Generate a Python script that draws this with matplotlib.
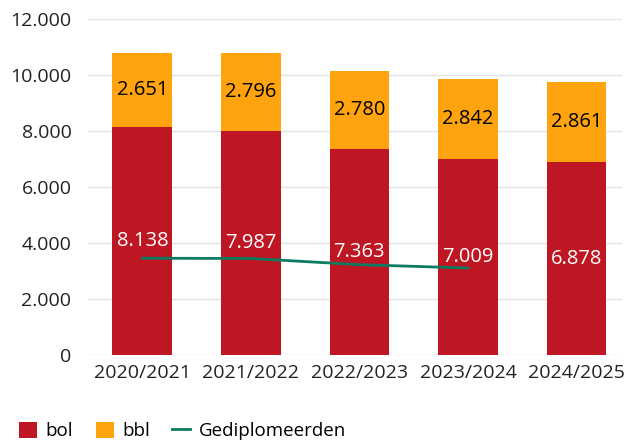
import matplotlib.pyplot as plt
import numpy as np

plt.rcParams['font.family'] = ['Open Sans', 'DejaVu Sans']

years = ['2020/2021', '2021/2022', '2022/2023', '2023/2024', '2024/2025']
bol = [8138, 7987, 7363, 7009, 6878]
bbl = [2651, 2796, 2780, 2842, 2861]
gediplomeerden = [3460, 3450, 3230, 3110]

red = '#BE1622'
orange = '#FFA30F'
teal = '#0A7A60'

fig = plt.figure(figsize=(6.29, 4.43), dpi=100)
ax = fig.add_axes([0.14, 0.198, 0.849, 0.76])

x = np.arange(len(years))
w = 0.55
b1 = ax.bar(x, bol, w, color=red, label='bol', zorder=2)
b2 = ax.bar(x, bbl, w, bottom=bol, color=orange, label='bbl', zorder=2)
ln, = ax.plot(x[:len(gediplomeerden)], gediplomeerden, color=teal, lw=2,
              label='Gediplomeerden', zorder=3)

def fmt(v):
    return f'{v:,}'.replace(',', '.')

for i in range(len(years)):
    ax.text(x[i], bol[i] / 2, fmt(bol[i]), ha='center', va='center',
            color='white', fontsize=14.5, zorder=4)
    ax.text(x[i], bol[i] + bbl[i] / 2, fmt(bbl[i]), ha='center', va='center',
            color='black', fontsize=14.5, zorder=4)

ax.set_ylim(0, 12000)
ax.set_xlim(-0.5, 4.42)
ax.set_yticks(range(0, 12001, 2000))
ax.set_yticklabels([fmt(v) for v in range(0, 12001, 2000)])
ax.set_xticks(x)
ax.set_xticklabels(years)
ax.tick_params(axis='both', length=0, labelsize=14, colors='#222222')
ax.tick_params(axis='y', pad=12)
ax.tick_params(axis='x', pad=6)
ax.grid(axis='y', color='#E3E3E3', lw=1, zorder=0)
for s in ax.spines.values():
    s.set_visible(False)

ax.legend([b1, b2, ln], ['bol', 'bbl', 'Gediplomeerden'],
          loc='center left', bbox_to_anchor=(-0.16, -0.225), ncol=3, frameon=False,
          fontsize=13.5, handlelength=0.95, handleheight=0.95, columnspacing=1.2,
          handletextpad=0.45)

fig.savefig('out.png', dpi=100)
